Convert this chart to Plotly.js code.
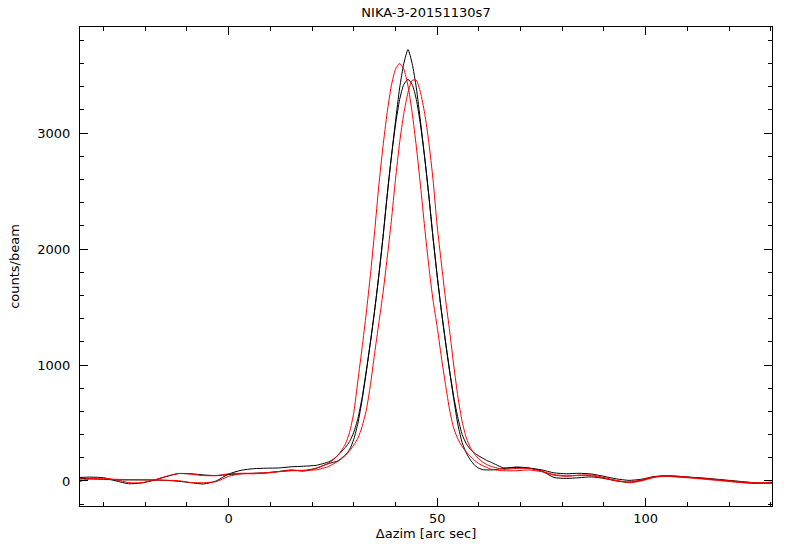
<!DOCTYPE html>
<html>
<head>
<meta charset="utf-8">
<script src="https://cdn.plot.ly/plotly-3.0.1.min.js"></script>
<style>html,body{margin:0;padding:0;background:#fff;}#plot{width:800px;height:560px;}</style>
</head>
<body>
<div id="plot"></div>
<script>
// shared abscissa (arc sec)
const azim = [-36,-33,-30,-27,-24,-21,-18,-15,-12,-9,-6,-3,0,3,6,9,12,15,18,21,24,
  25,26,27,28,29,30,31,32,33,34,35,36,37,38,39,40,41,42,43,44,45,46,47,48,49,50,51,52,53,54,55,56,57,58,59,60,61,62,
  63,66,69,72,75,78,81,84,87,90,93,96,99,102,105,108,111,114,117,120,123,126,129,131];

const black1 = [30,33,28,0,-24,-18,5,37,64,62,52,46,55,62,66,70,82,95,85,110,150,
  160,170,195,225,270,360,500,700,940,1200,1470,1770,2100,2460,2790,3100,3390,3600,3720,3600,3390,3100,2790,2460,2100,1770,1470,1200,940,700,480,330,240,180,135,110,97,95,
  95,108,120,112,88,30,22,28,35,22,0,-12,5,35,42,36,28,20,10,0,-12,-20,-18,-10];

const black2 = [24,18,14,9,9,9,8,5,-3,-15,-26,0,60,92,106,110,112,122,127,135,165,
  185,215,250,290,340,420,540,720,950,1200,1470,1770,2100,2460,2790,3070,3290,3420,3463,3420,3290,3070,2790,2460,2100,1770,1470,1200,950,720,540,400,320,270,240,215,195,175,
  160,112,116,110,96,70,62,66,60,40,18,5,15,38,45,40,32,25,15,5,-5,-15,-20,-15];

const red1 = [-8,22,24,10,-14,-16,8,40,64,58,46,46,62,66,66,72,80,88,90,110,155,
  180,215,260,320,420,590,870,1150,1450,1780,2150,2546,2884,3176,3407,3551,3601,3551,3407,3176,2884,2546,2186,1850,1560,1330,1070,830,610,450,360,295,250,210,175,150,130,115,
  100,88,88,95,80,50,40,50,52,30,5,-15,0,30,40,32,25,15,5,-5,-15,-20,-22,-18];

const red2 = [15,18,16,14,12,10,9,6,2,-14,-15,-6,40,62,62,68,80,90,92,96,125,
  145,165,190,220,260,310,370,470,610,830,1100,1360,1620,1920,2240,2600,2920,3170,3350,3455,3455,3350,3170,2920,2600,2200,1880,1570,1290,990,720,510,370,285,230,190,160,140,
  125,100,108,108,85,55,45,48,45,25,2,-8,10,35,45,40,30,22,12,2,-8,-15,-12,-8];

const xTicks = [0, 50, 100];
const yTicks = [0, 1000, 2000, 3000];
const titleText = "NIKA-3-20151130s7";
const xTitle = "\u0394azim [arc sec]";
const yTitle = "counts/beam";

const series = [
  {y: black1, color: "#000000"},
  {y: black2, color: "#000000"},
  {y: red1, color: "#ff0000"},
  {y: red2, color: "#ff0000"}
];

const traces = series.map(s => ({
  x: azim, y: s.y, type: "scatter", mode: "lines",
  line: {color: s.color, width: 1, shape: "spline", smoothing: 0.6},
  hoverinfo: "skip", showlegend: false
}));

const font = {family: "DejaVu Sans, sans-serif", size: 13, color: "#000"};

const layout = {
  width: 800, height: 560,
  paper_bgcolor: "#fff", plot_bgcolor: "#fff",
  margin: {l: 80, r: 28, t: 27, b: 54},
  font: font,
  title: {text: titleText, x: 0.5325, xanchor: "center", y: 0.977, yanchor: "middle", font: {family: "DejaVu Sans, sans-serif", size: 13, color: "#000"}},
  showlegend: false,
  xaxis: {
    range: [-35.66, 130.3], showgrid: false, zeroline: false,
    showline: true, linecolor: "#000", linewidth: 1, mirror: "allticks",
    ticks: "inside", ticklen: 8, tickcolor: "#000", tickwidth: 1,
    tickvals: xTicks, ticktext: xTicks.map(String),
    minor: {ticks: "inside", ticklen: 4, dtick: 10, tick0: 0, tickcolor: "#000", showgrid: false},
    title: {text: xTitle, font: font, standoff: 4},
    tickfont: font
  },
  yaxis: {
    range: [-216, 3915], showgrid: false, zeroline: false,
    showline: true, linecolor: "#000", linewidth: 1, mirror: "allticks",
    ticks: "inside", ticklen: 8, tickcolor: "#000", tickwidth: 1,
    tickvals: yTicks, ticktext: yTicks.map(String),
    minor: {ticks: "inside", ticklen: 4, dtick: 200, tick0: 0, tickcolor: "#000", showgrid: false},
    title: {text: yTitle, font: font, standoff: 14},
    tickfont: font, ticklabelstandoff: 6
  }
};

Plotly.newPlot("plot", traces, layout, {staticPlot: true, displayModeBar: false});
</script>
</body>
</html>
